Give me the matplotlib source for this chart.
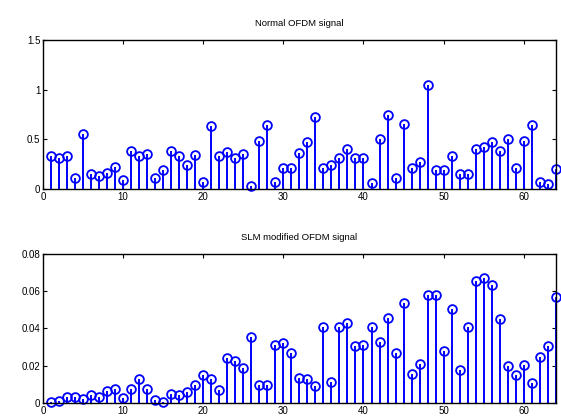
import matplotlib
matplotlib.use("Agg")
import matplotlib.pyplot as plt
import numpy as np

n = list(range(1, 65))
normal_ofdm = [0.33, 0.31, 0.33, 0.11, 0.55, 0.15, 0.13, 0.16, 0.22, 0.09,
               0.38, 0.33, 0.35, 0.11, 0.19, 0.38, 0.33, 0.24, 0.34, 0.07,
               0.63, 0.33, 0.37, 0.31, 0.35, 0.03, 0.48, 0.64, 0.07, 0.21,
               0.21, 0.36, 0.47, 0.72, 0.21, 0.24, 0.31, 0.40, 0.31, 0.31,
               0.06, 0.50, 0.74, 0.11, 0.65, 0.21, 0.27, 1.05, 0.19, 0.19,
               0.33, 0.15, 0.15, 0.40, 0.42, 0.47, 0.38, 0.50, 0.21, 0.48,
               0.64, 0.07, 0.05, 0.20]
slm_ofdm = [0.0005, 0.001, 0.0035, 0.0035, 0.002, 0.0045, 0.0035, 0.0065, 0.0075, 0.0029,
            0.0077, 0.013, 0.0077, 0.0014, 0.0005, 0.005, 0.0045, 0.006, 0.0095, 0.0153,
            0.013, 0.007, 0.024, 0.0227, 0.019, 0.0356, 0.0099, 0.0095, 0.031, 0.032,
            0.0266, 0.0137, 0.013, 0.0092, 0.041, 0.0113, 0.041, 0.0428, 0.0306, 0.031,
            0.041, 0.033, 0.0457, 0.027, 0.0536, 0.0155, 0.021, 0.058, 0.058, 0.028,
            0.0505, 0.018, 0.0406, 0.0656, 0.067, 0.0635, 0.045, 0.0198, 0.0153, 0.0203,
            0.0108, 0.0245, 0.0306, 0.0568]

titles = ["Normal OFDM signal", "SLM modified OFDM signal"]
yticks_top = [0, 0.5, 1, 1.5]
yticks_bot = [0, 0.02, 0.04, 0.06, 0.08]
xticks = [0, 10, 20, 30, 40, 50, 60]

plt.rcParams['font.family'] = ['Liberation Sans', 'DejaVu Sans']
fig = plt.figure(figsize=(5.61, 4.19), dpi=100)
ax1 = fig.add_axes([0.0767, 0.549, 0.914, 0.356])
ax2 = fig.add_axes([0.0767, 0.038, 0.914, 0.356])

def draw(ax, vals, yt, ylim, title, fmt):
    ml, sl, bl = ax.stem(n, vals, linefmt='-', markerfmt='o', basefmt=' ')
    plt.setp(sl, color='#0000ff', linewidth=1.4)
    plt.setp(ml, markerfacecolor='none', markeredgecolor='#0000ff',
             markersize=6.3, markeredgewidth=1.3, clip_on=False)
    ax.set_xlim(0, 64)
    ax.set_ylim(*ylim)
    ax.set_xticks(xticks)
    ax.set_yticks(yt)
    ax.set_yticklabels([fmt(v) for v in yt])
    ax.tick_params(direction='in', top=True, right=True, labelsize=7,
                   length=3, width=0.8, pad=2)
    for s in ax.spines.values():
        s.set_linewidth(1.0)
    ax.set_title(title, fontsize=6.8, pad=10)

draw(ax1, normal_ofdm, yticks_top, (0, 1.5), titles[0],
     lambda v: ('%g' % v))
draw(ax2, slm_ofdm, yticks_bot, (0, 0.08), titles[1],
     lambda v: ('0' if v == 0 else '%.2f' % v))

fig.savefig("out.png", dpi=100)
